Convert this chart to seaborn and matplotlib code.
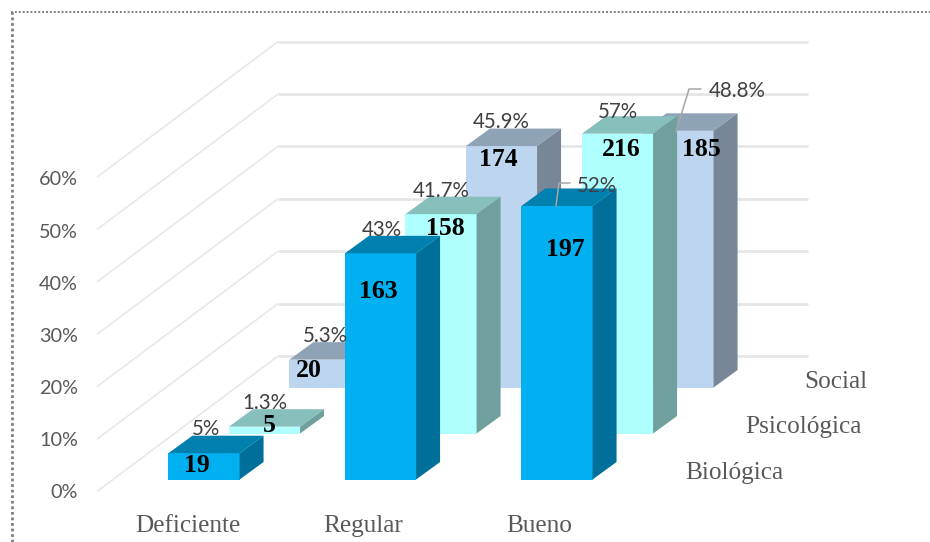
import matplotlib
matplotlib.use("Agg")
import matplotlib.pyplot as plt
import seaborn as sns
from matplotlib.patches import Polygon

# data
categories = ["Deficiente", "Regular", "Bueno"]
series_names = ["Biológica", "Psicológica", "Social"]
pct_biologica = [5, 43, 52]
pct_psicologica = [1.3, 41.7, 57]
pct_social = [5.3, 45.9, 48.8]
count_biologica = [19, 163, 197]
count_psicologica = [5, 158, 216]
count_social = [20, 174, 185]
pct_text_biologica = ["5%", "43%", "52%"]
pct_text_psicologica = ["1.3%", "41.7%", "57%"]
pct_text_social = ["5.3%", "45.9%", "48.8%"]
y_ticks = [0, 10, 20, 30, 40, 50, 60]

W, H = 930, 542
PX_PER_PCT = 5.26
CAT_STEP = 176.5
DEPTH_X, DEPTH_Y = 24, 17.5   # side/top face size in px
SERIES_DX, SERIES_DY = 60.5, 46  # shift of each row going back

# front, top, side colours
colors = [("#00B0F0", "#0080AF", "#006F99"),
          ("#B0FFFF", "#87BFBD", "#6FA09E"),
          ("#BDD5EE", "#8FA3B7", "#778797")]

# label offsets in px from (bar centre, bar top), y up
num_off = [[(-7, -12.5), (-2, -38.5), (8, -43.5)],
           [(4.5, 1.5), (4, -14.5), (3.5, -15.5)],
           [(-16, -10.5), (-3, -13.5), (23.5, -18.5)]]
pct_off = [[(2, 24), (1, 23), (40, 20)],
           [(0, 24), (0, 23), (0, 22)],
           [(0, 24), (0, 24), (59.5, 40)]]
series_label_x = [734, 803, 836]

LABEL_FONT = ["Lato", "DejaVu Sans"]
SERIF_FONT = ["Liberation Serif", "DejaVu Serif"]
GREY = "#595959"


def page_axes(fig, z):
    # full figure axes in pixel units, for the furniture of the chart
    ax = fig.add_axes([0, 0, 1, 1], zorder=z)
    ax.set_xlim(0, W)
    ax.set_ylim(H, 0)
    ax.axis("off")
    ax.patch.set_visible(False)
    return ax


def draw_series(fig, row, values):
    left = 204 - CAT_STEP / 2 + row * SERIES_DX
    bottom = 479.5 - row * SERIES_DY
    ax = fig.add_axes([left / W, (H - bottom) / H, 3 * CAT_STEP / W, 60 * PX_PER_PCT / H],
                      zorder=3 - row)
    front, top, side = colors[row]
    sns.barplot(x=categories, y=values, color=front, saturation=1, width=0.403,
                edgecolor="none", linewidth=0, ax=ax)
    ax.set_xlim(-0.5, 2.5)
    ax.set_ylim(0, 60)
    ax.axis("off")
    ax.patch.set_visible(False)

    dx = DEPTH_X / CAT_STEP
    dy = DEPTH_Y / PX_PER_PCT
    for bar in list(ax.patches):
        x0, x1 = bar.get_x(), bar.get_x() + bar.get_width()
        h = bar.get_height()
        ax.add_patch(Polygon([(x0, h), (x1, h), (x1 + dx, h + dy), (x0 + dx, h + dy)],
                             facecolor=top, edgecolor="none", clip_on=False))
        ax.add_patch(Polygon([(x1, 0), (x1 + dx, dy), (x1 + dx, h + dy), (x1, h)],
                             facecolor=side, edgecolor="none", clip_on=False))
    return ax


def main():
    sns.set_theme(style="white")
    fig = plt.figure(figsize=(W / 100, H / 100), dpi=100, facecolor="white")

    back = page_axes(fig, 0)
    # dotted frame, only top and left show
    back.plot([12, 12], [H, 11.5], color="#7F7F7F", lw=2, ls=(0, (1, 1)))
    back.plot([11, W], [11.5, 11.5], color="#7F7F7F", lw=1.4, ls=(0, (1, 1)))
    # floor and wall gridlines
    for t in y_ticks:
        y_back = 356 - t * 5.24
        y_front = y_back + 135.5
        back.plot([97, 278], [y_front, y_back], color="#E8E8E8", lw=1.2, solid_capstyle="butt")
        back.plot([278, 808], [y_back, y_back], color="#E6E6E6", lw=2, solid_capstyle="butt")

    all_pct = [pct_biologica, pct_psicologica, pct_social]
    all_count = [count_biologica, count_psicologica, count_social]
    all_text = [pct_text_biologica, pct_text_psicologica, pct_text_social]
    axes = [draw_series(fig, r, all_pct[r]) for r in range(3)]

    over = page_axes(fig, 5)
    for r, ax in enumerate(axes):
        for i, val in enumerate(all_pct[r]):
            over.annotate(str(all_count[r][i]), xy=(i, val), xycoords=ax.transData,
                          xytext=num_off[r][i], textcoords="offset pixels",
                          ha="center", va="center", family=SERIF_FONT, weight="bold",
                          fontsize=18.5, color="black")
            over.annotate(all_text[r][i], xy=(i, val), xycoords=ax.transData,
                          xytext=pct_off[r][i], textcoords="offset pixels",
                          ha="center", va="center", family=LABEL_FONT,
                          fontsize=14.8, color="#404040")

    # leader lines of the two moved labels
    over.plot([556, 559, 570], [206, 183, 183], color="#A6A6A6", lw=1.1)
    over.plot([676, 689, 701], [132, 89, 89], color="#A6A6A6", lw=1.1)

    for t in y_ticks:
        over.text(78, 493 - t * 5.22, f"{t}%", ha="right", va="center",
                  family=LABEL_FONT, fontsize=14.3, color=GREY)
    for i, name in enumerate(categories):
        over.text(188 + i * 175.5, 526, name, ha="center", va="center",
                  family=SERIF_FONT, fontsize=18.2, color=GREY)
    for r, name in enumerate(series_names):
        over.text(series_label_x[r], 473 - r * 45.5, name, ha="center", va="center",
                  family=SERIF_FONT, fontsize=18.2, color=GREY)

    fig.savefig("out.png", dpi=100)


if __name__ == "__main__":
    main()
